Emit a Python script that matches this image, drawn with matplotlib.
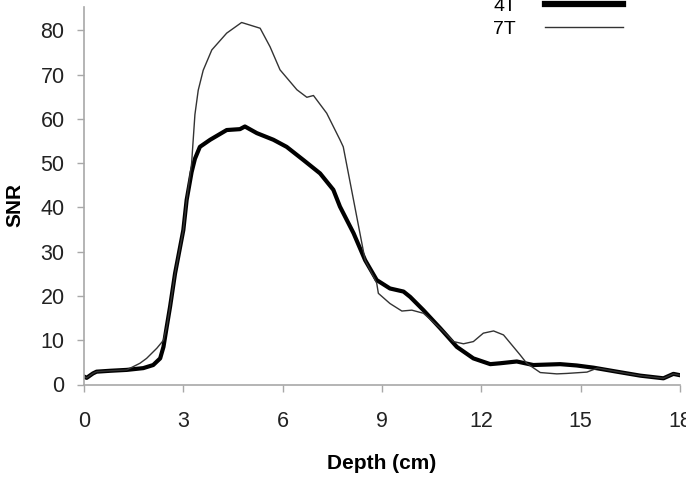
import matplotlib
matplotlib.use("Agg")
import matplotlib.pyplot as plt
from matplotlib.lines import Line2D

plt.rcParams['font.family'] = ['Liberation Sans', 'DejaVu Sans']

# Depth (cm) and SNR, 4T
depth_4t = [0.00, 0.08, 0.27, 0.38, 0.79, 1.29, 1.79, 2.09, 2.30, 2.40, 2.50, 2.60, 2.75,
            3.00, 3.10, 3.25, 3.35, 3.50, 3.81, 4.31, 4.71, 4.86, 5.22, 5.72, 6.12, 6.63,
            7.13, 7.53, 7.73, 8.14, 8.49, 8.84, 9.24, 9.65, 9.85, 10.25, 10.76, 11.26,
            11.76, 12.27, 12.57, 13.07, 13.57, 14.38, 14.88, 15.39, 16.09, 16.80, 17.50,
            17.80, 18.00]
snr_4t = [1.8, 1.5, 2.5, 2.9, 3.1, 3.3, 3.7, 4.4, 5.9, 8.5, 13.1, 17.6, 25.1,
          34.9, 41.7, 48.0, 51.0, 53.7, 55.3, 57.5, 57.7, 58.3, 56.8, 55.3, 53.7, 50.7,
          47.7, 44.0, 40.2, 34.2, 28.1, 23.6, 21.7, 21.0, 19.8, 16.8, 12.7, 8.5,
          5.9, 4.6, 4.8, 5.2, 4.4, 4.6, 4.3, 3.8, 2.9, 2.0, 1.4,
          2.4, 2.1]

# Depth (cm) and SNR, 7T
depth_7t = [0.00, 0.08, 0.27, 0.38, 0.79, 1.29, 1.69, 1.89, 2.20, 2.40, 2.50, 2.60, 2.75,
            3.00, 3.10, 3.25, 3.35, 3.45, 3.60, 3.86, 4.31, 4.76, 5.32, 5.62, 5.92, 6.43,
            6.73, 6.93, 7.33, 7.73, 7.83, 8.14, 8.49, 8.84, 8.89, 9.24, 9.60, 9.90, 10.25,
            10.76, 11.16, 11.46, 11.76, 12.06, 12.37, 12.67, 12.97, 13.17, 13.37, 13.78,
            14.28, 14.58, 15.19, 15.50, 16.09, 16.80, 17.50, 17.80, 18.00]
snr_7t = [1.8, 1.5, 2.5, 2.9, 3.1, 3.3, 4.8, 5.9, 8.2, 10.0, 13.1, 17.6, 25.1,
          34.9, 41.7, 50.0, 61.0, 66.5, 71.0, 75.6, 79.4, 81.8, 80.5, 76.3, 71.1, 66.6,
          64.9, 65.3, 61.3, 55.3, 53.7, 41.7, 28.1, 22.9, 20.6, 18.3, 16.6, 16.8, 16.1,
          12.7, 9.7, 9.2, 9.7, 11.6, 12.1, 11.2, 8.5, 6.7, 4.8, 2.7,
          2.4, 2.5, 2.8, 3.7, 2.9, 2.0, 1.4, 2.4, 2.1]

x_ticks = [0, 3, 6, 9, 12, 15, 18]
y_ticks = [0, 10, 20, 30, 40, 50, 60, 70, 80]

fig = plt.figure(figsize=(6.86, 4.79), dpi=100)
ax = fig.add_axes([84/686, 1-384.5/479, (680-84)/686, (384.5-7)/479])

ax.plot(depth_4t, snr_4t, color='black', lw=3.0, solid_joinstyle='round', label='4T')
ax.plot(depth_7t, snr_7t, color='#333333', lw=1.0, label='7T')

ax.set_xlim(0, 18)
ax.set_ylim(0, 85.3)
ax.set_xticks(x_ticks)
ax.set_yticks(y_ticks)
ax.set_xticklabels([str(t) for t in x_ticks])
ax.set_yticklabels([str(t) for t in y_ticks])

for s in ['top', 'right']:
    ax.spines[s].set_visible(False)
for s in ['left', 'bottom']:
    ax.spines[s].set_color('#a8a8a8')
    ax.spines[s].set_linewidth(1.2)
ax.tick_params(axis='both', direction='out', length=5, width=1.0, color='#a8a8a8',
               labelsize=15.5, labelcolor='#222222')
ax.tick_params(axis='y', pad=9)
ax.tick_params(axis='x', pad=14)

ax.set_xlabel('Depth (cm)', fontsize=15, fontweight='bold', labelpad=16)
ax.set_ylabel('SNR', fontsize=15, fontweight='bold', labelpad=10)
ax.yaxis.set_label_coords(-0.1, 0.475)

handles = [Line2D([], [], color='black', lw=4.5), Line2D([], [], color='#333333', lw=1.0)]
ax.legend(handles, ['4T', '7T'], loc='upper left', bbox_to_anchor=(493/686, 1.0 + 3/479),
          bbox_transform=fig.transFigure, frameon=False, markerfirst=False,
          handlelength=4.0, handletextpad=1.5, labelspacing=0.3, fontsize=14,
          borderaxespad=0, borderpad=0)

fig.savefig('out.png', dpi=100)
